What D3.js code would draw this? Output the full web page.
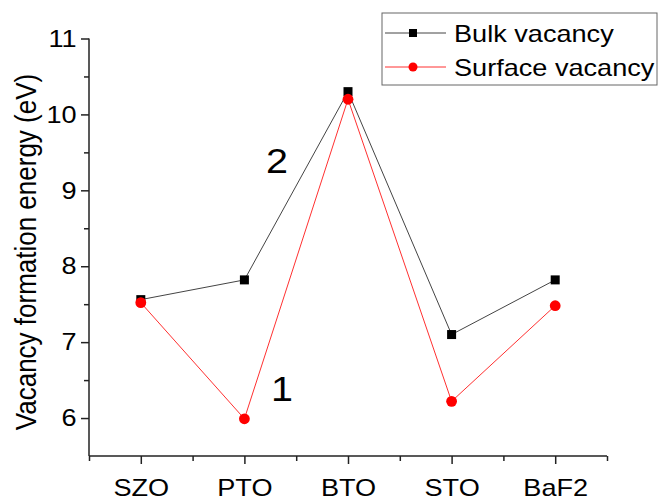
<!DOCTYPE html>
<html lang="en">
<head>
  <meta charset="UTF-8">
  <title>Vacancy formation energy</title>
  <script src="https://d3js.org/d3.v7.min.js"></script>
  <style>
    body { margin: 0; background: #fff; }
    text { font-family: "Liberation Sans", Arial, sans-serif; fill: #000; }
  </style>
</head>
<body>
  <script>
    // data
    const categories = ["SZO", "PTO", "BTO", "STO", "BaF2"];
    const bulk = [7.56, 7.82, 10.3, 7.1, 7.82];
    const surface = [7.52, 5.99, 10.2, 6.22, 7.48];
    const yTicks = [6, 7, 8, 9, 10, 11];

    const width = 659, height = 501;
    const mLeft = 89, mRight = 607, mTop = 38.5, mBottom = 456;
    const stretch = 1.13; // text in the original is a bit wide

    const svg = d3.select("body")
        .append("svg")
        .attr("width", width)
        .attr("height", height);

    const x = d3.scaleLinear().domain([0.5, 5.5]).range([mLeft, mRight]);
    const y = d3.scaleLinear().domain([5.5, 11]).range([mBottom, mTop]);

    // y axis
    svg.append("g")
        .attr("transform", `translate(${mLeft},0)`)
        .call(d3.axisLeft(y).tickValues(yTicks).tickSize(8).tickPadding(3).tickFormat(d3.format("d")));
    svg.append("g")
        .attr("transform", `translate(${mLeft},0)`)
        .call(d3.axisLeft(y).tickValues(d3.range(6.5, 11, 1)).tickSize(5).tickFormat(""));

    // x axis
    svg.append("g")
        .attr("transform", `translate(0,${mBottom})`)
        .call(d3.axisBottom(x).tickValues(d3.range(1, 6)).tickSize(8).tickPadding(15)
          .tickFormat(d => categories[d - 1]));
    svg.append("g")
        .attr("transform", `translate(0,${mBottom})`)
        .call(d3.axisBottom(x).tickValues(d3.range(0.5, 6, 1)).tickSize(5).tickFormat(""));

    svg.selectAll(".domain").remove();
    svg.selectAll(".tick line")
        .attr("stroke", "#222")
        .attr("stroke-width", 1.5);
    // plain axis lines
    svg.append("line").attr("x1", mLeft).attr("x2", mLeft).attr("y1", mTop).attr("y2", mBottom)
        .attr("stroke", "#222").attr("stroke-width", 1.5);
    svg.append("line").attr("x1", mLeft).attr("x2", mRight).attr("y1", mBottom).attr("y2", mBottom)
        .attr("stroke", "#222").attr("stroke-width", 1.5);

    svg.selectAll(".tick text")
        .attr("font-size", 24)
        .attr("transform", `scale(${stretch},1)`)
        .style("font-family", "Liberation Sans, Arial, sans-serif")
        .attr("fill", "#000");

    // y label
    svg.append("text")
        .attr("transform", `translate(36,252) scale(${stretch},1) rotate(-90)`)
        .attr("text-anchor", "middle")
        .attr("font-size", 26)
        .text("Vacancy formation energy (eV)");

    const line = d3.line().x((d, i) => x(i + 1)).y(d => y(d));

    // series
    svg.append("path")
        .datum(bulk)
        .attr("d", line)
        .attr("fill", "none")
        .attr("stroke", "#444")
        .attr("stroke-width", 1);
    svg.append("path")
        .datum(surface)
        .attr("d", line)
        .attr("fill", "none")
        .attr("stroke", "#ff3030")
        .attr("stroke-width", 1);

    svg.selectAll("rect.bulk")
        .data(bulk)
        .enter()
        .append("rect")
        .attr("class", "bulk")
        .attr("x", (d, i) => x(i + 1) - 4.5)
        .attr("y", d => y(d) - 4.5)
        .attr("width", 9)
        .attr("height", 9)
        .attr("fill", "#000");
    svg.selectAll("circle.surf")
        .data(surface)
        .enter()
        .append("circle")
        .attr("class", "surf")
        .attr("cx", (d, i) => x(i + 1))
        .attr("cy", d => y(d))
        .attr("r", 5.4)
        .attr("fill", "#ff0000");

    // annotations
    const note = (tx, ty, s) => svg.append("text")
        .attr("transform", `translate(${tx},${ty}) scale(${stretch},1)`)
        .attr("text-anchor", "middle")
        .attr("font-size", 35)
        .text(s);
    note(277, 173, "2");
    note(282, 401, "1");

    // legend
    const legend = svg.append("g");
    legend.append("rect")
        .attr("x", 382).attr("y", 13).attr("width", 275).attr("height", 72)
        .attr("fill", "#fff").attr("stroke", "#666").attr("stroke-width", 1);
    const items = [
      { label: "Bulk vacancy", color: "#444", shape: "rect", y: 33 },
      { label: "Surface vacancy", color: "#ff3030", shape: "circle", y: 67 }
    ];
    items.forEach(it => {
      legend.append("line").attr("x1", 385).attr("x2", 446).attr("y1", it.y).attr("y2", it.y)
          .attr("stroke", it.color).attr("stroke-width", 1);
      if (it.shape === "rect") {
        legend.append("rect").attr("x", 409).attr("y", it.y - 4).attr("width", 8).attr("height", 8).attr("fill", "#000");
      } else {
        legend.append("circle").attr("cx", 413).attr("cy", it.y).attr("r", 4.5).attr("fill", "#ff0000");
      }
      legend.append("text")
          .attr("transform", `translate(454,${it.y + 8.5}) scale(${stretch},1)`)
          .attr("font-size", 24).text(it.label);
    });
  </script>
</body>
</html>
